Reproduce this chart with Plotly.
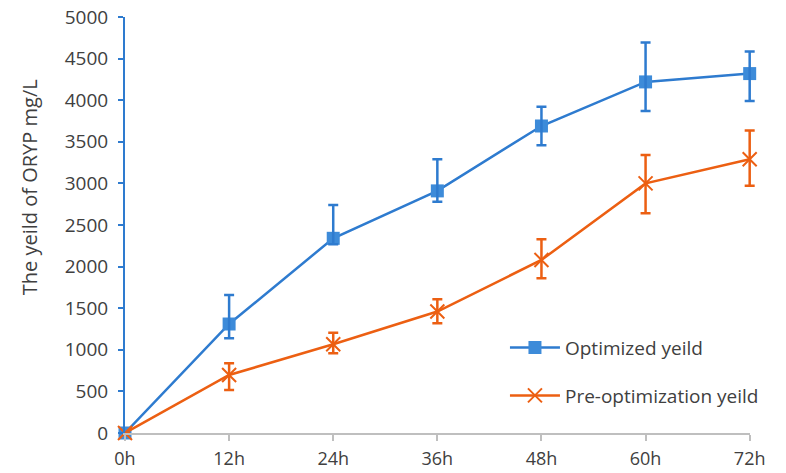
import plotly.graph_objects as go

# Sampling times (hours) and their axis labels
hours = [0, 12, 24, 36, 48, 60, 72]
hour_labels = ["0h", "12h", "24h", "36h", "48h", "60h", "72h"]

# Optimized culture yield (mg/L) with upper/lower error extents
optimized = [0, 1310, 2340, 2910, 3690, 4220, 4320]
optimized_err_up = [0, 350, 400, 380, 230, 475, 265]
optimized_err_down = [0, 170, 70, 130, 230, 350, 330]

# Pre-optimization yield (mg/L) with upper/lower error extents
pre_opt = [0, 697, 1066, 1460, 2080, 3000, 3290]
pre_opt_err_up = [0, 140, 140, 147, 248, 340, 345]
pre_opt_err_down = [0, 180, 108, 142, 220, 360, 318]

y_ticks = list(range(0, 5001, 500))
y_title = "The yeild of ORYP mg/L"

BLUE = "#2E7BCF"
BLUE_MARK = "#3D8BD9"
ORANGE = "#EC5F12"
FONT = "Open Sans"
TEXT = "#404040"

# Main x axis occupies part of the paper; a hidden wider twin axis (same
# scale) carries the error bars so the caps at 72h are not clipped.
X_DOMAIN_END = 0.97
x_max = 72
x2_max = x_max / X_DOMAIN_END

fig = go.Figure()

series = [
    ("Optimized yeild", optimized, optimized_err_up, optimized_err_down, BLUE,
     dict(symbol="square", size=13, color=BLUE_MARK, line=dict(width=0)), "legend"),
    ("Pre-optimization yeild", pre_opt, pre_opt_err_up, pre_opt_err_down, ORANGE,
     dict(symbol="x-thin", size=14, color=ORANGE, line=dict(width=2, color=ORANGE)), "legend2"),
]

for name, vals, up, down, color, marker, leg in series:
    # error bars on the twin axis
    fig.add_trace(go.Scatter(
        x=hours, y=vals, xaxis="x2", yaxis="y",
        mode="markers", marker=dict(size=1, opacity=0),
        error_y=dict(type="data", symmetric=False, array=up, arrayminus=down,
                     color=color, thickness=2.5, width=5),
        showlegend=False, hoverinfo="skip",
    ))
    # line and markers
    fig.add_trace(go.Scatter(
        x=hours, y=vals, name=name,
        mode="lines+markers",
        line=dict(color=color, width=2.5),
        marker=marker,
        cliponaxis=False, legend=leg,
    ))

legend_common = dict(
    font=dict(family=FONT, size=19, color=TEXT),
    bgcolor="rgba(0,0,0,0)", xanchor="left", yanchor="middle",
    itemwidth=50,
)

plot_w = 786 - 125 - 36  # width of the main x axis in px
fig.update_layout(
    width=786, height=473,
    margin=dict(l=125, r=36 - int(round(plot_w * (1 / X_DOMAIN_END - 1))), t=17, b=40),
    paper_bgcolor="white", plot_bgcolor="rgba(0,0,0,0)",
    font=dict(family=FONT, size=19, color=TEXT),
    showlegend=True,
    legend=dict(x=0.59, y=0.205, **legend_common),
    legend2=dict(x=0.59, y=0.09, **legend_common),
    xaxis=dict(
        domain=[0, X_DOMAIN_END],
        range=[0, x_max], tickmode="array", tickvals=hours, ticktext=hour_labels,
        showgrid=False, zeroline=False, automargin=False,
        showline=True, linecolor="#BFBFBF", linewidth=1.5,
        ticks="outside", ticklen=6, tickcolor="#BFBFBF", tickwidth=1.5,
        ticklabelstandoff=3,
        tickfont=dict(family=FONT, size=18, color=TEXT),
    ),
    xaxis2=dict(
        domain=[0, 1], range=[0, x2_max], anchor="y",
        visible=False, automargin=False,
    ),
    yaxis=dict(
        range=[0, 5000], tickmode="array", tickvals=y_ticks,
        showgrid=False, zeroline=False, automargin=False,
        showline=True, linecolor=BLUE, linewidth=2,
        ticks="outside", ticklen=5, tickcolor=BLUE, tickwidth=1.5,
        ticklabelstandoff=6,
        tickfont=dict(family=FONT, size=19, color=TEXT),
    ),
    annotations=[dict(
        text=y_title, textangle=-90, showarrow=False,
        xref="paper", yref="paper", x=-0.148, y=0.59,
        xanchor="center", yanchor="middle",
        font=dict(family=FONT, size=20, color=TEXT),
    )],
)

fig.write_html("out.html")
